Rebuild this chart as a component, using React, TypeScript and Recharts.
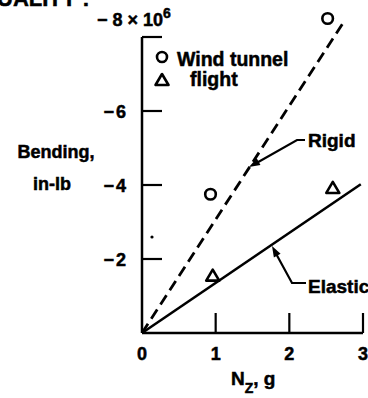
import React from "react";
import { ComposedChart, Line, Scatter, XAxis, YAxis, ReferenceLine } from "recharts";

// N_z (g) vs bending moment (x 10^6 in-lb)
const windTunnelNz = [0.93, 2.52];
const windTunnelBending = [-3.75, -8.5];
const flightNz = [0.96, 2.59];
const flightBending = [-1.55, -3.92];
const rigidNz = [0, 2.72];
const rigidBending = [0, -8.35];
const elasticNz = [0, 2.97];
const elasticBending = [0, -4.02];

const xTicks = [0, 1, 2, 3];
const yTicks = [-8, -6, -4, -2];

const FONT = "'Liberation Sans', Arial, sans-serif";

const toPoints = (xs: number[], ys: number[]) => xs.map((x, i) => ({ x, y: ys[i] }));

const windTunnel = toPoints(windTunnelNz, windTunnelBending);
const flight = toPoints(flightNz, flightBending);
const rigid = toPoints(rigidNz, rigidBending);
const elastic = toPoints(elasticNz, elasticBending);

const txt = {
  fontFamily: FONT,
  fontWeight: "bold" as const,
  fontSize: 18,
  fill: "#000",
  stroke: "#000",
  strokeWidth: 0.5,
};

const CircleMark = (props: any) => (
  <circle cx={props.cx} cy={props.cy} r={5.3} fill="#fff" stroke="#000" strokeWidth={2.6} />
);

const TriangleMark = (props: any) => {
  const { cx, cy } = props;
  return (
    <polygon
      points={`${cx},${cy - 6} ${cx - 6.5},${cy + 5} ${cx + 6.5},${cy + 5}`}
      fill="#fff"
      stroke="#000"
      strokeWidth={2.6}
      strokeLinejoin="round"
    />
  );
};

const XTick = (props: any) => {
  const { x, y, payload } = props;
  return (
    <g>
      {payload.value !== 0 && <line x1={x} y1={y} x2={x} y2={y - 20} stroke="#000" strokeWidth={2.2} />}
      <text x={x} y={y + 27} textAnchor="middle" {...txt}>
        {payload.value}
      </text>
    </g>
  );
};

const YTick = (props: any) => {
  const { x, y, payload } = props;
  const v = payload.value;
  return (
    <g>
      <line x1={x} y1={y} x2={x + 20} y2={y} stroke="#000" strokeWidth={2.2} />
      {v === -8 ? (
        <text x={97} y={y - 11} {...txt}>
          {"− 8 × 10"}
          <tspan fontSize={14} dy={-8}>6</tspan>
        </text>
      ) : (
        <text x={x - 14} y={y + 6.5} textAnchor="end" {...txt} letterSpacing={2}>
          {"−" + Math.abs(v)}
        </text>
      )}
    </g>
  );
};

function arrowHead(tx: number, ty: number, fx: number, fy: number) {
  const dx = tx - fx;
  const dy = ty - fy;
  const len = Math.hypot(dx, dy);
  const ux = dx / len;
  const uy = dy / len;
  const bx = tx - ux * 11;
  const by = ty - uy * 11;
  const px = -uy * 3.8;
  const py = ux * 3.8;
  return `${tx},${ty} ${bx + px},${by + py} ${bx - px},${by - py}`;
}

export default function App() {
  return (
    <div style={{ position: "absolute", left: 0, top: 0, width: 368, height: 398, background: "#fff", overflow: "hidden" }}>
      <ComposedChart width={368} height={398} margin={{ top: 0, right: 5, bottom: 0, left: 0 }}>
        <XAxis
          type="number"
          dataKey="x"
          domain={[0, 3]}
          ticks={xTicks}
          height={65}
          tickSize={0}
          tickMargin={0}
          tickLine={false}
          axisLine={{ stroke: "#000", strokeWidth: 2.5 }}
          tick={<XTick />}
          interval={0}
        />
        <YAxis
          type="number"
          dataKey="y"
          domain={[-9, 0]}
          reversed
          ticks={yTicks}
          width={142}
          tickSize={0}
          tickMargin={0}
          tickLine={false}
          axisLine={false}
          tick={<YTick />}
          interval={0}
        />
        <ReferenceLine
          segment={[{ x: 0, y: 0 }, { x: 0, y: -8 }]}
          stroke="#000"
          strokeWidth={2.5}
          ifOverflow="visible"
        />
        <Line
          data={rigid}
          dataKey="y"
          type="linear"
          stroke="#000"
          strokeWidth={2.8}
          strokeDasharray="11 6"
          dot={false}
          isAnimationActive={false}
        />
        <Line
          data={elastic}
          dataKey="y"
          type="linear"
          stroke="#000"
          strokeWidth={2.6}
          dot={false}
          isAnimationActive={false}
        />
        <Scatter data={windTunnel} dataKey="y" shape={CircleMark} isAnimationActive={false} />
        <Scatter data={flight} dataKey="y" shape={TriangleMark} isAnimationActive={false} />
      </ComposedChart>

      <svg width={368} height={398} style={{ position: "absolute", left: 0, top: 0, pointerEvents: "none" }}>
        <text x={-3} y={6} {...txt} fontSize={22}>UALITY :</text>

        <text x={56} y={158} textAnchor="middle" {...txt}>Bending,</text>
        <text x={52} y={190} textAnchor="middle" {...txt}>in-lb</text>

        <circle cx={162} cy={57} r={5} fill="#fff" stroke="#000" strokeWidth={2.6} />
        <text x={177} y={66} {...txt} fontSize={19.5}>Wind tunnel</text>
        <polygon points="162,74 155.5,85 168.5,85" fill="#fff" stroke="#000" strokeWidth={2.6} strokeLinejoin="round" />
        <text x={190} y={86} {...txt} fontSize={19.5}>flight</text>

        <polyline points="305,140 297,140 253,165" fill="none" stroke="#000" strokeWidth={2.2} />
        <polygon points={arrowHead(249, 167, 297, 140)} fill="#000" />
        <text x={308} y={147} {...txt} fontSize={19}>Rigid</text>

        <polyline points="306,283 292,283 274,250" fill="none" stroke="#000" strokeWidth={2.2} />
        <polygon points={arrowHead(272, 246, 292, 283)} fill="#000" />
        <text x={308} y={293} {...txt} fontSize={19}>Elastic</text>

        <circle cx={152} cy={237} r={1.6} fill="#000" />

        <text x={231} y={385} {...txt} fontSize={19}>
          N<tspan fontSize={14} dy={8}>Z</tspan>
          <tspan dy={-8}>, g</tspan>
        </text>
      </svg>
    </div>
  );
}
